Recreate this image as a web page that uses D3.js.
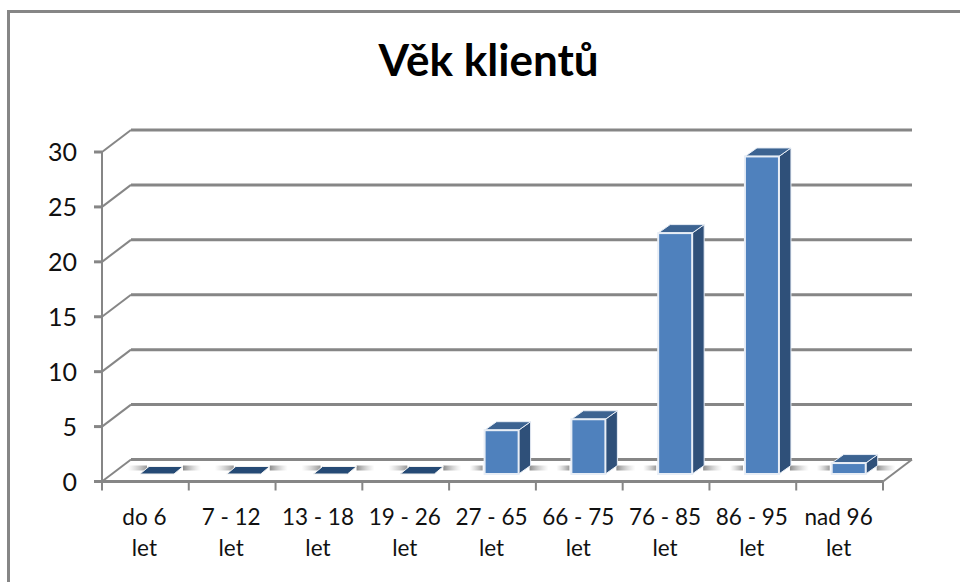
<!DOCTYPE html>
<html><head><meta charset="utf-8">
<script src="https://cdn.jsdelivr.net/npm/d3@7"></script>
<style>html,body{margin:0;padding:0;background:#fff}svg{display:block}text{font-family:Lato,"Noto Sans",sans-serif;fill:#111}</style>
</head><body><svg id="c" width="960" height="582"></svg>
<script>
const titleText = "Věk klientů";
const categories = ["do 6 let","7 - 12 let","13 - 18 let","19 - 26 let","27 - 65 let","66 - 75 let","76 - 85 let","86 - 95 let","nad 96 let"];
const labelLine1 = ["do 6","7 - 12","13 - 18","19 - 26","27 - 65","66 - 75","76 - 85","86 - 95","nad 96"];
const labelLine2 = ["let","let","let","let","let","let","let","let","let"];
const values = [0,0,0,0,4,5,22,29,1];
const yTicks = [0,5,10,15,20,25,30];

const grey="#868686", front="#4f81bd", side="#2f5079", topC="#3c6391", zeroC="#254a75", edge="#e8eef6";
const svg=d3.select("#c");
const W=960,H=582;
const left=102,right=883,y0=481.5,y30=152;
const dx=29,dy=-22;
const x=d3.scaleBand().domain(categories).range([left,right]);
const y=d3.scaleLinear().domain([0,30]).range([y0,y30]);
const yBar=d3.scaleLinear().domain([0,30]).range([474,145.5]);
const barOff=35.5, zeroOff=2.5, barW=34, bdx=12, bdy=-8.5;

const defs=svg.append("defs");
const gl=defs.append("linearGradient").attr("id","sl");
gl.append("stop").attr("offset","0").attr("stop-color","#bbb").attr("stop-opacity",0);
gl.append("stop").attr("offset","1").attr("stop-color","#999").attr("stop-opacity",1);
const gr=defs.append("linearGradient").attr("id","sr");
gr.append("stop").attr("offset","0").attr("stop-color","#8c8c8c").attr("stop-opacity",1);
gr.append("stop").attr("offset","1").attr("stop-color","#bbb").attr("stop-opacity",0);

svg.append("path").attr("d",`M${W},11.5H8.5V${H}`).attr("fill","none").attr("stroke",grey).attr("stroke-width",3);

svg.append("text").attr("x",488.5).attr("y",76).attr("text-anchor","middle").attr("font-size",44).attr("font-weight",700).style("fill","#000").text(titleText);

const g=svg.append("g");
yTicks.forEach(t=>{
  const yy=y(t);
  g.append("path").attr("d",`M${left},${yy}L${left+dx},${yy+dy}`).attr("fill","none").attr("stroke",grey).attr("stroke-width",2);
  g.append("path").attr("d",`M${left+dx},${yy+dy}H${right+dx}`).attr("fill","none").attr("stroke",grey).attr("stroke-width",3);
});
g.append("path").attr("d",`M${right},${y0}L${right+dx},${y0+dy}`).attr("fill","none").attr("stroke",grey).attr("stroke-width",2);
g.append("path").attr("d",`M${left},${y(30)}V${y0}`).attr("fill","none").attr("stroke",grey).attr("stroke-width",2);
g.append("path").attr("d",`M${left},${y0}H${right}`).attr("fill","none").attr("stroke",grey).attr("stroke-width",3);

const ya=svg.append("g");
yTicks.forEach(t=>{
  ya.append("path").attr("d",`M${left-8},${y(t)}H${left}`).attr("stroke",grey).attr("stroke-width",3);
  ya.append("text").attr("x",77).attr("y",y(t)+9).attr("text-anchor","end").attr("font-size",25).text(t);
});
const edges=categories.map(c=>x(c)).concat([right]);
edges.forEach(e=>svg.append("path").attr("d",`M${e},${y0}V${y0+9}`).attr("stroke",grey).attr("stroke-width",2));
categories.forEach((c,i)=>{
  const cx=x(c)+x.bandwidth()/2;
  svg.append("text").attr("x",cx-1).attr("y",525).attr("text-anchor","middle").attr("font-size",22.5).text(labelLine1[i]);
  svg.append("text").attr("x",cx-1).attr("y",556).attr("text-anchor","middle").attr("font-size",22.5).text(labelLine2[i]);
});

const bars=svg.append("g");
categories.forEach((c,i)=>{
  const v=values[i];
  const bx=x(c)+barOff+(v?0:zeroOff), bb=yBar(0), bt=yBar(v);
  bars.append("rect").attr("x",bx-(v?15:12)).attr("y",bb-8.5).attr("width",v?13:19).attr("height",5).attr("fill","url(#sl)");
  bars.append("rect").attr("x",bx+barW+(v?bdx-1:9)).attr("y",bb-8.5).attr("width",v?19:18).attr("height",5).attr("fill","url(#sr)");
  if(v>0){
    bars.append("path").attr("d",`M${bx+barW},${bt}l${bdx},${bdy}V${bb+bdy}l${-bdx},${-bdy}Z`).attr("fill",side).attr("stroke",edge).attr("stroke-width",1);
    bars.append("path").attr("d",`M${bx},${bt}l${bdx},${bdy}h${barW}l${-bdx},${-bdy}Z`).attr("fill",topC).attr("stroke",edge).attr("stroke-width",1);
    bars.append("rect").attr("x",bx).attr("y",bt).attr("width",barW).attr("height",bb-bt).attr("fill",front).attr("stroke",edge).attr("stroke-width",2);
  } else {
    bars.append("path").attr("d",`M${bx},${bb}l9,-7.5h${barW}l-9,7.5Z`).attr("fill",zeroC).attr("stroke","#f2f2f2").attr("stroke-width",1);
  }
});
</script></body></html>
